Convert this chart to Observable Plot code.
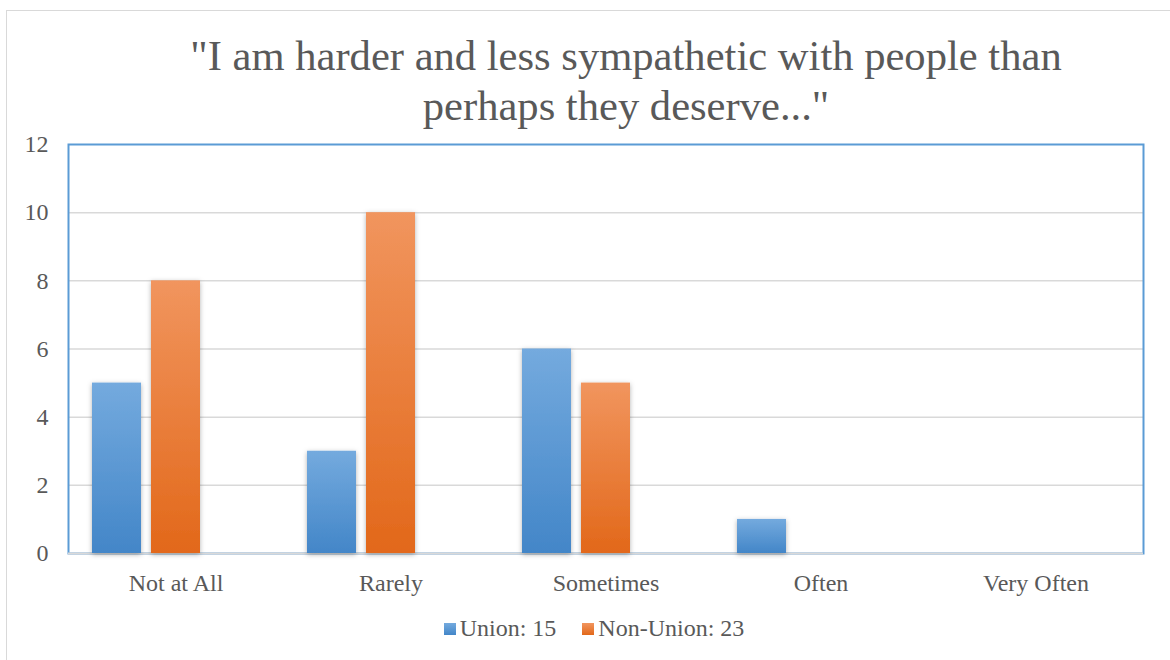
<!DOCTYPE html>
<html>
<head>
<meta charset="utf-8">
<script src="https://cdn.jsdelivr.net/npm/d3@7"></script>
<script src="https://cdn.jsdelivr.net/npm/@observablehq/plot@0.6"></script>
<style>
  html, body { margin: 0; padding: 0; background: #fff; overflow: hidden; }
  #wrap { position: relative; width: 1170px; height: 660px; font-family: "Liberation Serif", "DejaVu Serif", serif; color: #595959; }
  #outer { position: absolute; left: 6px; top: 10px; width: 1250px; height: 720px; border: 1.5px solid #d9d9d9; box-sizing: border-box; }
  #title { position: absolute; left: 0; top: 31px; width: 1252px; text-align: center; font-size: 42.6px; line-height: 50px; color: #595959; }
  #chart { position: absolute; left: 0; top: 130px; }
  #legend { position: absolute; left: 0; top: 615px; width: 1188px; display: flex; justify-content: center; align-items: center; font-size: 24px; gap: 26px; }
  .item { display: flex; align-items: center; gap: 4px; }
  .sw { width: 12px; height: 12px; display: inline-block; }
</style>
</head>
<body>
<div id="wrap">
  <div id="outer"></div>
  <div id="title">"I am harder and less sympathetic with people than<br>perhaps they deserve..."</div>
  <div id="chart"></div>
  <div id="legend"></div>
</div>
<script>
const categories = ["Not at All", "Rarely", "Sometimes", "Often", "Very Often"];
const seriesKeys = ["Union", "Non-Union", "(none)"];
const legendLabels = ["Union: 15", "Non-Union: 23"];
const unionValues = [5, 3, 6, 1, 0];
const nonUnionValues = [8, 10, 5, 0, 0];
const yTicks = [0, 2, 4, 6, 8, 10, 12];
const gradients = {
  Union: ["#74aade", "#4386c8"],
  "Non-Union": ["#f1955e", "#e2681a"]
};

const rows = [];
categories.forEach((c, i) => {
  rows.push({category: c, series: "Union", value: unionValues[i]});
  rows.push({category: c, series: "Non-Union", value: nonUnionValues[i]});
});

const chart = Plot.plot({
  width: 1170,
  height: 470,
  marginTop: 14,
  marginBottom: 47,
  marginLeft: 67,
  marginRight: 27,
  style: {fontFamily: "'Liberation Serif', 'DejaVu Serif', serif", fontSize: "24px", color: "#595959", background: "transparent"},
  fx: {domain: categories, padding: 0, axis: "bottom", label: null, tickSize: 0, tickPadding: 20},
  x: {domain: seriesKeys, paddingInner: 1 / 6, paddingOuter: 0.377, axis: null},
  y: {domain: [0, 12], ticks: yTicks, tickSize: 0, tickPadding: 20, label: null, tickFormat: d => String(d)},
  marks: [
    Plot.ruleY(yTicks.filter(t => t > 0 && t < 12), {stroke: "#d9d9d9", strokeWidth: 1.5}),
    Plot.frame({facet: "super", stroke: "#5b9bd5", strokeWidth: 2}),
    Plot.ruleY([0], {stroke: "#d9d9d9", strokeWidth: 2}),
    Plot.barY(rows.filter(d => d.series === "Union"), {fx: "category", x: "series", y: "value", fill: "url(#gradUnion)"}),
    Plot.barY(rows.filter(d => d.series === "Non-Union"), {fx: "category", x: "series", y: "value", fill: "url(#gradNonUnion)"})
  ]
});

// gradient + shadow definitions
const svg = d3.select(chart);
const defs = svg.insert("defs", ":first-child");
[["gradUnion", gradients.Union], ["gradNonUnion", gradients["Non-Union"]]].forEach(([id, [top, bottom]]) => {
  const g = defs.append("linearGradient").attr("id", id).attr("x1", 0).attr("y1", 0).attr("x2", 0).attr("y2", 1);
  g.append("stop").attr("offset", "0%").attr("stop-color", top);
  g.append("stop").attr("offset", "100%").attr("stop-color", bottom);
});
const f = defs.append("filter").attr("id", "shadow").attr("x", "-30%").attr("y", "-10%").attr("width", "160%").attr("height", "125%");
f.append("feDropShadow").attr("dx", 0).attr("dy", 1.5).attr("stdDeviation", 2.5).attr("flood-color", "#000").attr("flood-opacity", 0.3);
svg.selectAll("rect").filter(function() {
  const fl = this.getAttribute("fill") || (this.parentNode && this.parentNode.getAttribute("fill"));
  const h = +this.getAttribute("height");
  return fl && fl.startsWith("url(") && h > 0;
}).attr("filter", "url(#shadow)");

document.getElementById("chart").appendChild(chart);

const legend = d3.select("#legend");
legendLabels.forEach((label, i) => {
  const [top, bottom] = gradients[seriesKeys[i]];
  const item = legend.append("div").attr("class", "item");
  item.append("span").attr("class", "sw").style("background", `linear-gradient(${top}, ${bottom})`);
  item.append("span").text(label);
});
</script>
</body>
</html>
